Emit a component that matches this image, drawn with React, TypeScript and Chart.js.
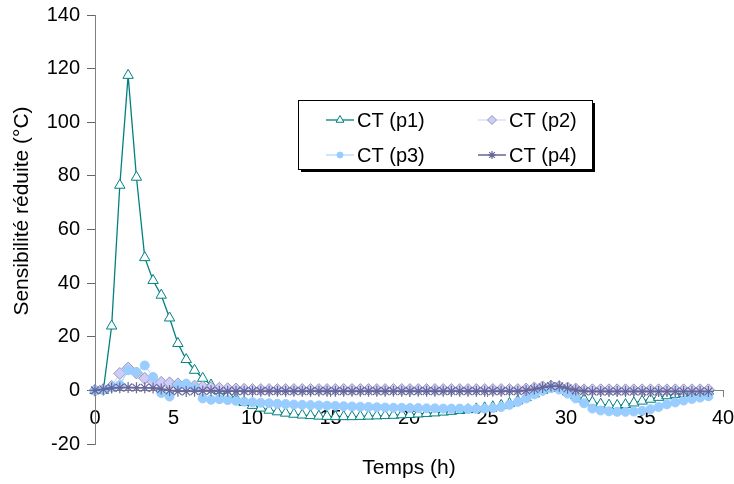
import React, { useEffect, useRef } from 'react';
import { Chart, registerables } from 'chart.js';
import { drawPoint } from 'chart.js/helpers';

Chart.register(...registerables);

const FONT = "'Liberation Sans', Arial, Helvetica, sans-serif";

// Time (h)
const timeH = [
  0, 0.53, 1.06, 1.58, 2.11, 2.64, 3.17, 3.7, 4.22, 4.75,
  5.28, 5.81, 6.34, 6.86, 7.39, 7.92, 8.45, 8.98, 9.5, 10.03,
  10.56, 11.09, 11.62, 12.14, 12.67, 13.2, 13.73, 14.26, 14.78, 15.31,
  15.84, 16.37, 16.9, 17.42, 17.95, 18.48, 19.01, 19.54, 20.06, 20.59,
  21.12, 21.65, 22.18, 22.7, 23.23, 23.76, 24.29, 24.82, 25.34, 25.87,
  26.4, 26.93, 27.46, 27.98, 28.51, 29.04, 29.57, 30.1, 30.62, 31.15,
  31.68, 32.21, 32.74, 33.26, 33.79, 34.32, 34.85, 35.38, 35.9, 36.43,
  36.96, 37.49, 38.02, 38.54, 39.07,
];

const ctP1 = [
  0, 0, 24, 76.5, 117.5, 79.5, 49.5, 41, 35.5, 27,
  17.5, 11.5, 7.5, 4.5, 2, 0, -1.5, -3, -4.5, -5.6,
  -6.6, -7.4, -8.0, -8.5, -8.9, -9.2, -9.4, -9.6, -9.7, -9.8,
  -9.8, -9.8, -9.7, -9.6, -9.5, -9.4, -9.3, -9.1, -9.0, -8.8,
  -8.6, -8.4, -8.1, -7.8, -7.5, -7.2, -6.9, -6.5, -6.1, -5.6,
  -4.9, -3.9, -2.7, -1.3, 0.0, 1.0, 0.7, -0.6, -2.0, -3.3,
  -4.4, -5.1, -5.5, -5.6, -5.3, -4.7, -4.0, -3.3, -2.6, -2.0,
  -1.5, -1.1, -0.8, -0.5, -0.3,
];

const ctP2 = [
  0, 0.3, 1.5, 6.3, 8.3, 6.5, 4.5, 3.2, 3.0, 2.8,
  2.4, 2.0, 1.6, 1.3, 1.0, 0.8, 0.6, 0.5, 0.4, 0.3,
  0.3, 0.3, 0.3, 0.3, 0.3, 0.3, 0.3, 0.3, 0.3, 0.3,
  0.3, 0.3, 0.3, 0.3, 0.3, 0.3, 0.3, 0.3, 0.3, 0.3,
  0.3, 0.3, 0.3, 0.3, 0.3, 0.3, 0.3, 0.3, 0.3, 0.3,
  0.3, 0.3, 0.5, 0.9, 1.3, 1.6, 1.4, 0.9, 0.5, 0.2,
  0.2, 0.2, 0.2, 0.2, 0.2, 0.2, 0.2, 0.2, 0.2, 0.2,
  0.2, 0.2, 0.2, 0.2, 0.2,
];

const ctP3 = [
  0, 0.2, 1.2, 2.0, 7.5, 6.8, 9.3, 5.0, -1.0, -2.3,
  1.8, 2.5, 1.0, -3.0, -3.5, -3.3, -3.6, -3.9, -4.2, -4.4,
  -4.6, -4.8, -5.0, -5.1, -5.3, -5.4, -5.5, -5.6, -5.7, -5.8,
  -5.9, -6.0, -6.1, -6.2, -6.3, -6.4, -6.5, -6.5, -6.6, -6.6,
  -6.7, -6.7, -6.8, -6.8, -6.8, -6.9, -6.9, -6.8, -6.6, -6.2,
  -5.4, -4.3, -3.0, -1.5, -0.2, 0.8, 0.3, -1.2, -3.0, -4.8,
  -6.8, -7.5, -7.8, -8.0, -8.0, -7.9, -7.6, -7.0, -6.2, -5.2,
  -4.5, -3.8, -3.2, -2.7, -2.2,
];

const ctP4 = [
  0, 0.4, 0.9, 1.0, 1.1, 1.0, 1.0, 0.9, 0.5, 0.0,
  -0.3, -0.4, -0.3, -0.2, -0.1, -0.3, -0.3, -0.3, -0.3, -0.3,
  -0.3, -0.3, -0.3, -0.3, -0.3, -0.3, -0.3, -0.3, -0.3, -0.3,
  -0.3, -0.3, -0.3, -0.3, -0.3, -0.3, -0.3, -0.3, -0.3, -0.3,
  -0.3, -0.3, -0.3, -0.3, -0.3, -0.3, -0.3, -0.3, -0.3, -0.3,
  -0.3, -0.3, 0.0, 0.5, 1.1, 1.6, 1.5, 0.8, 0.1, -0.3,
  -0.4, -0.4, -0.4, -0.4, -0.4, -0.4, -0.4, -0.4, -0.4, -0.4,
  -0.4, -0.4, -0.4, -0.4, -0.4,
];

const seriesNames = ['CT (p1)', 'CT (p2)', 'CT (p3)', 'CT (p4)'];
const seriesValues = [ctP1, ctP2, ctP3, ctP4];
const xTitle = 'Temps (h)';
const yTitle = 'Sensibilité réduite (°C)';

const seriesStyles = [
  { line: '#008080', fill: '#FFFFFF', border: '#008080', point: 'triangle', r: 6, bw: 1, lw: 1.3, order: 4 },
  { line: '#CCCCFF', fill: '#CCCCFF', border: '#9999AA', point: 'rectRot', r: 6, bw: 1, lw: 1, order: 3 },
  { line: '#99CCFF', fill: '#99CCFF', border: '#99CCFF', point: 'circle', r: 4.5, bw: 1, lw: 1, order: 2 },
  { line: '#666699', fill: '#666699', border: '#666699', point: 'star', r: 5.5, bw: 1.2, lw: 1.5, order: 1 },
];

const zeroPadding = (scale: any) => {
  scale.paddingLeft = 0;
  scale.paddingRight = 0;
  scale.paddingTop = 0;
  scale.paddingBottom = 0;
};

const legendPlugin = {
  id: 'customLegend',
  afterDraw(chart: any) {
    const ctx = chart.ctx as CanvasRenderingContext2D;
    ctx.save();
    const bx = 298, by = 100, bw = 294, bh = 69;
    ctx.fillStyle = '#000';
    ctx.fillRect(bx + 3, by + 3, bw, bh);
    ctx.fillStyle = '#fff';
    ctx.fillRect(bx, by, bw, bh);
    ctx.strokeStyle = '#000';
    ctx.lineWidth = 1;
    ctx.strokeRect(bx + 0.5, by + 0.5, bw, bh);
    const pos = [
      { x: 326, y: 120 },
      { x: 478, y: 120 },
      { x: 326, y: 155 },
      { x: 478, y: 155 },
    ];
    ctx.font = `20px ${FONT}`;
    ctx.textBaseline = 'middle';
    ctx.textAlign = 'left';
    seriesNames.forEach((name, i) => {
      const s = seriesStyles[i];
      const p = pos[i];
      ctx.strokeStyle = s.line;
      ctx.lineWidth = s.lw;
      ctx.beginPath();
      ctx.moveTo(p.x, p.y);
      ctx.lineTo(p.x + 28, p.y);
      ctx.stroke();
      ctx.fillStyle = s.fill;
      ctx.strokeStyle = s.border;
      ctx.lineWidth = s.bw;
      drawPoint(ctx, { pointStyle: s.point as any, radius: s.r - 1.5, rotation: 0, borderWidth: s.bw }, p.x + 14, p.y);
      ctx.fillStyle = '#000';
      ctx.fillText(name, p.x + 31, p.y + 1);
    });
    // axis titles
    const area = chart.chartArea;
    ctx.font = `21px ${FONT}`;
    ctx.textAlign = 'center';
    ctx.fillText(xTitle, (area.left + area.right) / 2, 468);
    ctx.translate(22, 211);
    ctx.rotate(-Math.PI / 2);
    ctx.fillText(yTitle, 0, 0);
    ctx.restore();
  },
};

export default function App() {
  const canvasRef = useRef<HTMLCanvasElement | null>(null);

  useEffect(() => {
    document.body.style.margin = '0';
    const canvas = canvasRef.current;
    if (!canvas) return;
    const datasets = seriesNames.map((name, i) => {
      const s = seriesStyles[i];
      return {
        label: name,
        data: timeH.map((t, k) => ({ x: t, y: seriesValues[i][k] })),
        borderColor: s.line,
        borderWidth: s.lw,
        backgroundColor: s.fill,
        pointStyle: s.point,
        pointRadius: s.r,
        pointBackgroundColor: s.fill,
        pointBorderColor: s.border,
        pointBorderWidth: s.bw,
        showLine: true,
        tension: 0,
        clip: false,
        order: s.order,
      };
    });
    const chart = new Chart(canvas, {
      type: 'scatter',
      data: { datasets } as any,
      options: {
        animation: false,
        responsive: false,
        devicePixelRatio: 1,
        layout: { padding: { left: 5, right: 11, top: 15, bottom: 40 } },
        plugins: { legend: { display: false }, tooltip: { enabled: false } },
        scales: {
          x: {
            type: 'linear',
            position: { y: 0 } as any,
            min: 0,
            max: 40,
            afterFit: zeroPadding,
            ticks: {
              stepSize: 5,
              color: '#000',
              padding: 10,
              font: { family: FONT, size: 20 },
              maxRotation: 0,
            },
            grid: { drawOnChartArea: false, drawTicks: true, tickLength: 6, color: '#808080' },
            border: { display: true, color: '#808080', width: 1 },
          },
          y: {
            type: 'linear',
            position: 'left',
            min: -20,
            max: 140,
            afterFit: (scale: any) => {
              scale.width = 90;
              zeroPadding(scale);
            },
            ticks: {
              stepSize: 20,
              color: '#000',
              padding: 7,
              font: { family: FONT, size: 20 },
              callback: (v: any) => String(v),
            },
            grid: { drawOnChartArea: false, drawTicks: true, tickLength: 8, color: '#666666' },
            border: { display: true, color: '#808080', width: 1 },
            title: { display: false },
          },
        },
      } as any,
      plugins: [legendPlugin],
    });
    return () => chart.destroy();
  }, []);

  return (
    <div style={{ position: 'absolute', left: 0, top: 0, width: 734, height: 484 }}>
      <canvas ref={canvasRef} width={734} height={484} />
    </div>
  );
}
